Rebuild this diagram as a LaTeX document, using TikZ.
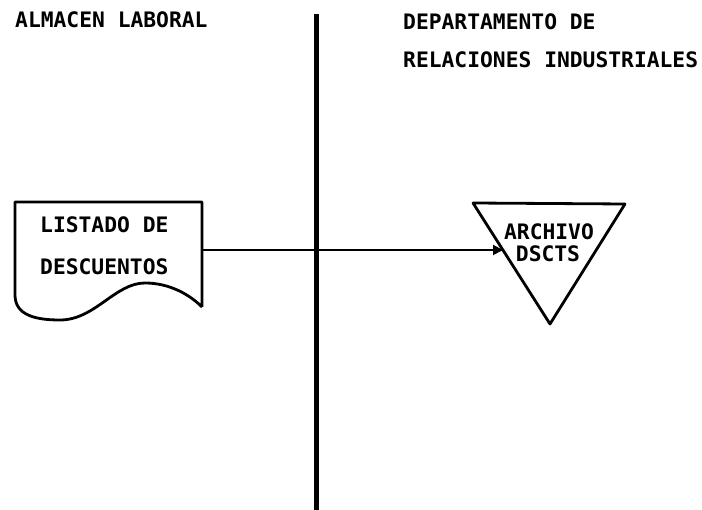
\documentclass[tikz,border=0pt]{standalone}
\usepackage{fontspec}
\setmonofont{DejaVu Sans Mono}
\usetikzlibrary{arrows.meta,calc}

\begin{document}
\begin{tikzpicture}[
x=1pt,y=-1pt,
font=\ttfamily\bfseries\fontsize{21.3pt}{24pt}\selectfont,
label/.style={inner sep=0pt,anchor=base west},
tag/.style={inner sep=0pt,anchor=base},
outline/.style={draw=black,line width=2.8pt,line join=round},
divider/.style={line width=5pt},
arrow/.style={-{Triangle[length=10pt,width=10pt]},line width=1.8pt}
]
\useasboundingbox (0,0) rectangle (702,510);

% lanes
\coordinate (divtop) at (316,14);
\coordinate (divbot) at (316,510);
\draw[divider] (divtop) -- (divbot);
\node[label] (almacen) at (15,28) {ALMACEN LABORAL};
\node[label] (depto) at (403,30) {DEPARTAMENTO DE};
\node[label] (relaciones) at (403,68) {RELACIONES INDUSTRIALES};

% document
\coordinate (docnw) at (15,202);
\coordinate (docne) at (202,202);
\coordinate (docse) at (202,307);
\coordinate (docout) at (202,250);
\draw[outline] (docse) -- (docne) -- (docnw) -- (15,295)
  .. controls (15,315) and (35,320) .. (60,320)
  .. controls (95,320) and (115,283) .. (145,283)
  .. controls (170,283) and (190,295) .. (docse);
\node[label] (listado) at (40,233) {LISTADO DE};
\node[label] (descuentos) at (40,275) {DESCUENTOS};

% archive
\coordinate (tritl) at (473,203);
\coordinate (tritr) at (625,204);
\coordinate (trib) at (550,324);
\draw[outline] (tritl) -- (tritr) -- (trib) -- cycle;
\coordinate (triin) at ($(tritl)!0.39!(trib)$);
\node[tag] (archivo) at (549,240) {ARCHIVO};
\node[tag] (dscts) at (548,262) {DSCTS};

\draw[arrow] (docout) -- (docout -| triin);
\end{tikzpicture}
\end{document}
